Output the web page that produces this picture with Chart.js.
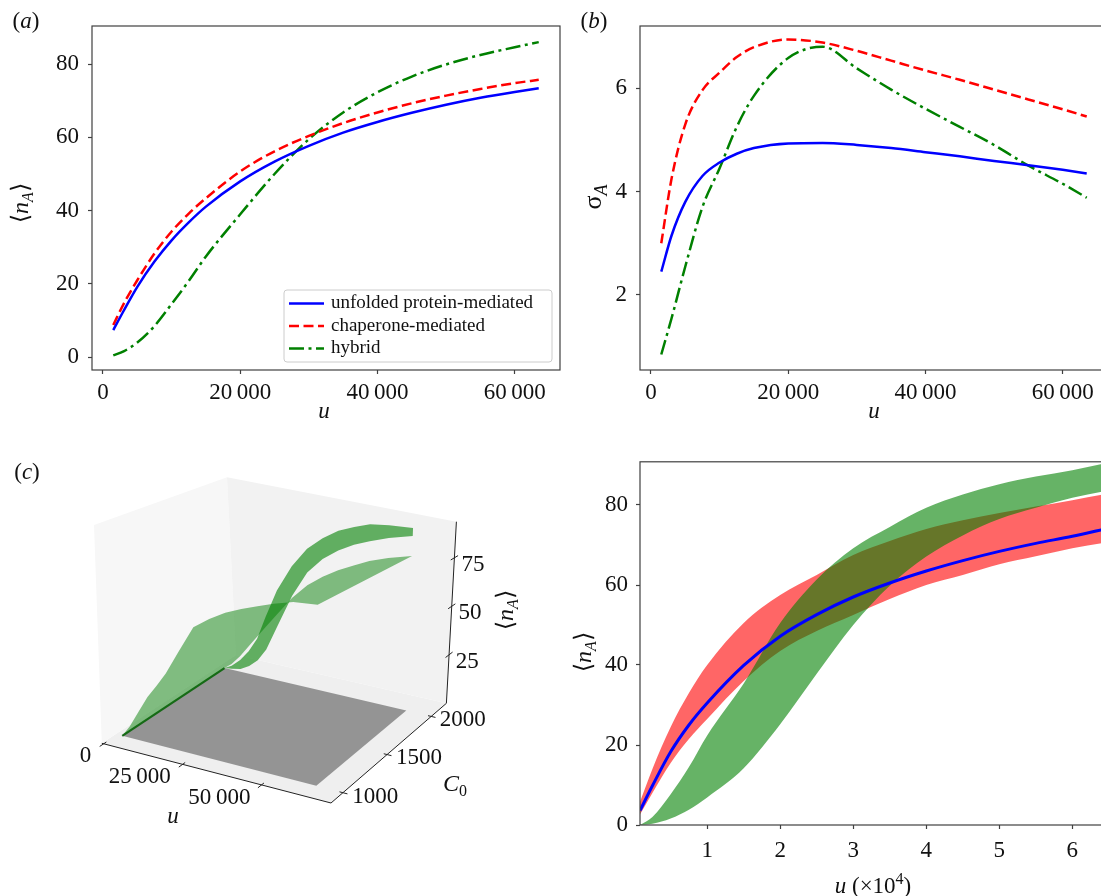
<!DOCTYPE html>
<html>
<head>
<meta charset="utf-8">
<script src="https://cdn.jsdelivr.net/npm/chart.js@4.4.1/dist/chart.umd.min.js"></script>
<style>
  html, body { margin: 0; padding: 0; background: #fff; overflow: hidden; }
  body { width: 1101px; height: 896px; position: relative; }
  canvas { position: absolute; }
  #chartA { left: 0; top: 0; }
  #chartB { left: 560px; top: 0; }
  #chartC { left: 0; top: 440px; }
  #chartD { left: 560px; top: 440px; }
</style>
</head>
<body>
<canvas id="chartC" width="560" height="456"></canvas>
<canvas id="chartD" width="560" height="456"></canvas>
<canvas id="chartA" width="562" height="440"></canvas>
<canvas id="chartB" width="560" height="440"></canvas>
<script>
// ---- data ----
// (a) and (b): sampled u values
const uA = [1500, 3000, 5000, 7500, 10000, 12500, 15000, 20000, 25000, 30000, 35000, 40000, 45000, 50000, 55000, 60000, 63500];
const meanUnfolded = [7.4, 12.6, 19.2, 26.1, 31.9, 36.8, 41.1, 48.0, 53.4, 57.7, 61.3, 64.2, 66.7, 68.9, 70.8, 72.4, 73.4];
const meanChaperone = [8.8, 14.5, 21.0, 28.3, 34.3, 39.2, 43.4, 50.7, 56.2, 60.4, 63.9, 66.8, 69.3, 71.4, 73.2, 74.8, 75.7];
const meanHybrid = [0.5, 1.6, 4.0, 8.5, 14.5, 20.8, 27.5, 39.0, 50.0, 59.5, 66.8, 72.3, 76.6, 79.9, 82.5, 84.6, 86.0];

const sdUnfolded = [2.45, 3.15, 3.8, 4.3, 4.56, 4.73, 4.84, 4.93, 4.94, 4.90, 4.84, 4.76, 4.68, 4.59, 4.51, 4.42, 4.35];
const sdChaperone = [3.0, 4.25, 5.3, 5.96, 6.3, 6.6, 6.79, 6.94, 6.88, 6.72, 6.53, 6.34, 6.16, 5.97, 5.78, 5.59, 5.45];
const sdHybrid = [0.85, 1.55, 2.55, 3.7, 4.45, 5.25, 5.85, 6.58, 6.8, 6.38, 5.97, 5.6, 5.25, 4.9, 4.5, 4.15, 3.88];

// (d): u in units of 1e4
const uD = [0.08, 0.25, 0.5, 0.75, 1, 1.5, 2, 2.5, 3, 3.5, 4, 4.5, 5, 5.5, 6, 6.42];
const bandMean = [3.6, 9.8, 18.3, 25.0, 30.5, 39.9, 47.2, 52.6, 57.0, 60.5, 63.5, 66.1, 68.4, 70.4, 72.2, 73.9];
const chapUpper = [5.8, 14.0, 24.5, 33.0, 40.0, 50.5, 57.5, 62.5, 67.5, 71.0, 74.0, 76.2, 78.0, 79.6, 81.2, 82.6];
const chapLower = [2.6, 8.0, 15.5, 21.5, 26.5, 36.0, 43.5, 48.5, 52.5, 56.5, 60.0, 62.5, 65.2, 67.2, 69.2, 70.5];
const hybUpper = [0, 2.0, 7.7, 14.5, 22.4, 35.4, 50.5, 61.4, 69.2, 74.5, 79.3, 82.6, 85.2, 87.1, 88.7, 90.3];
const hybLower = [0, 0.3, 1.6, 3.8, 6.9, 14.2, 25.2, 37.8, 50.0, 59.8, 67.1, 72.4, 76.5, 79.3, 81.8, 83.4];

// (c): surfaces over (u, C0)
const uSurf = [1500, 4000, 7000, 10000, 13000, 16000, 20000, 25000, 30000, 35000, 40000, 45000, 50000, 56000, 63500];
const sheetLowC0 = [0, 5, 12.5, 20, 26, 32.5, 43, 56, 61.5, 66, 69.5, 72.5, 75.5, 78.5, 80];
const sheetHighC0 = [0, 3, 8, 14, 20, 26, 34, 44, 52, 58, 63, 67, 71, 74.5, 78];
const ribbonUpper = [0, 2, 6, 11.5, 19, 31, 46, 60, 70.5, 77.5, 83, 86.5, 89.5, 91, 92];
const ribbonLower = [0, 0.5, 1.5, 4, 8, 14.5, 28, 45, 58.5, 67, 73, 77.5, 81, 84.5, 88];
const planeU = [1500, 63500];
const planeC0 = [1000, 2000];
const ribbonC0 = 2000;

// tick values
const uTicksAB = [0, 20000, 40000, 60000];
const nTicksA = [0, 20, 40, 60, 80];
const sdTicks = [2, 4, 6];
const uTicksD = [1, 2, 3, 4, 5, 6];
const nTicksD = [0, 20, 40, 60, 80];
const uTicks3d = [0, 25000, 50000];
const cTicks3d = [1000, 1500, 2000];
const nTicks3d = [25, 50, 75];

// ---- styling ----
const SERIF = '"Liberation Serif", "Times New Roman", "DejaVu Serif", serif';
const AXIS_GREY = '#404040';
Chart.defaults.font.family = SERIF;
Chart.defaults.color = '#111';
Chart.defaults.animation = false;
Chart.defaults.plugins.tooltip.enabled = false;
Chart.defaults.plugins.legend.display = false;

const thousands = v => v === 0 ? '0' : String(v).replace(/\B(?=(\d{3})+(?!\d))/g, '\u2009');

function drawRich(ctx, parts, x, y, size, rot, align) {
  const fontFor = p => (p.it ? 'italic ' : '') + ((p.sub || p.sup) ? Math.round(size * 0.68) : size) + 'px ' + SERIF;
  let w = 0;
  const widths = parts.map(p => { ctx.font = fontFor(p); const m = ctx.measureText(p.t).width; w += m; return m; });
  ctx.save();
  ctx.translate(x, y);
  ctx.rotate(rot || 0);
  ctx.fillStyle = '#111';
  ctx.textBaseline = 'middle';
  ctx.textAlign = 'left';
  let cx = align === 'right' ? -w : align === 'left' ? 0 : -w / 2;
  parts.forEach((p, i) => {
    ctx.font = fontFor(p);
    const dy = p.sub ? size * 0.3 : p.sup ? -size * 0.32 : 0;
    ctx.fillText(p.t, cx, dy);
    cx += widths[i];
  });
  ctx.restore();
}

function textPlugin(items) {
  return {
    id: 'texts',
    afterDraw(chart) {
      items.forEach(it => drawRich(chart.ctx, it.parts, it.x, it.y, it.size || 23, it.rot, it.align));
    }
  };
}

const framePlugin = {
  id: 'frame',
  afterDatasetsDraw(chart) {
    const { ctx, chartArea: a } = chart;
    ctx.save();
    ctx.strokeStyle = AXIS_GREY;
    ctx.lineWidth = 1.2;
    ctx.strokeRect(a.left, a.top, a.right - a.left, a.bottom - a.top);
    ctx.restore();
  }
};

const legendBox = {
  id: 'legendBox',
  afterDraw(chart) {
    const ctx = chart.ctx, ca = chart.chartArea;
    const w = 268, h = 72;
    const x0 = ca.right - 8 - w, y0 = ca.bottom - 8 - h;
    ctx.save();
    ctx.beginPath();
    ctx.roundRect(x0, y0, w, h, 3);
    ctx.fillStyle = 'rgba(255,255,255,0.8)';
    ctx.fill();
    ctx.strokeStyle = '#cccccc';
    ctx.lineWidth = 1;
    ctx.stroke();
    chart.data.datasets.forEach((ds, i) => {
      const y = y0 + 13.5 + i * 22.5;
      ctx.strokeStyle = ds.borderColor;
      ctx.lineWidth = ds.borderWidth;
      ctx.setLineDash(ds.borderDash || []);
      ctx.beginPath();
      ctx.moveTo(x0 + 5, y);
      ctx.lineTo(x0 + 40, y);
      ctx.stroke();
      ctx.setLineDash([]);
      ctx.fillStyle = '#111';
      ctx.font = '19px ' + SERIF;
      ctx.textBaseline = 'middle';
      ctx.textAlign = 'left';
      ctx.fillText(ds.label, x0 + 47, y);
    });
    ctx.restore();
  }
};

function axis(min, max, ticks, fmt, fit, horizontal, pad) {
  return {
    type: 'linear', min, max,
    afterBuildTicks: s => { s.ticks = ticks.map(v => ({ value: v })); },
    afterFit: s => { if (horizontal) s.height = fit; else s.width = fit; },
    grid: { display: true, drawOnChartArea: false, drawTicks: true, tickLength: 4, tickWidth: 1.2, tickColor: AXIS_GREY },
    border: { display: false },
    ticks: { font: { size: 23 }, color: '#111', padding: pad, maxRotation: 0, autoSkip: false, callback: fmt }
  };
}

function curve(label, xs, ys, color, dash, width) {
  return {
    label, data: xs.map((x, i) => ({ x, y: ys[i] })),
    borderColor: color, backgroundColor: color, borderWidth: width || 2.5, borderDash: dash,
    pointRadius: 0, fill: false, cubicInterpolationMode: 'monotone'
  };
}

const NA = [{ t: '\u27E8' }, { t: 'n', it: true }, { t: 'A', it: true, sub: true }, { t: '\u27E9' }];

// ---- (a) ----
new Chart(document.getElementById('chartA'), {
  type: 'line',
  data: { datasets: [
    curve('unfolded protein-mediated', uA, meanUnfolded, '#0000ff', []),
    curve('chaperone-mediated', uA, meanChaperone, '#ff0000', [10, 4.5]),
    curve('hybrid', uA, meanHybrid, '#008000', [15, 4.5, 3, 4.5])
  ]},
  options: {
    responsive: false, devicePixelRatio: 1,
    layout: { padding: { top: 26, right: 2, left: 0, bottom: 0 } },
    scales: {
      x: axis(-1600, 66600, uTicksAB, thousands, 70, true, 5),
      y: axis(-3.5, 90.4, nTicksA, v => String(v), 92, false, 9)
    }
  },
  plugins: [framePlugin, legendBox, textPlugin([
    { parts: [{ t: '(' }, { t: 'a', it: true }, { t: ')' }], x: 26, y: 22 },
    { parts: NA, x: 22, y: 203, rot: -Math.PI / 2, size: 24 },
    { parts: [{ t: 'u', it: true }], x: 324, y: 412 }
  ])]
});

// ---- (b) ----
new Chart(document.getElementById('chartB'), {
  type: 'line',
  data: { datasets: [
    curve('unfolded protein-mediated', uA, sdUnfolded, '#0000ff', []),
    curve('chaperone-mediated', uA, sdChaperone, '#ff0000', [10, 4.5]),
    curve('hybrid', uA, sdHybrid, '#008000', [15, 4.5, 3, 4.5])
  ]},
  options: {
    responsive: false, devicePixelRatio: 1,
    layout: { padding: { top: 26, right: 12, left: 0, bottom: 0 } },
    scales: {
      x: axis(-1600, 66600, uTicksAB, thousands, 70, true, 5),
      y: axis(0.55, 7.2, sdTicks, v => String(v), 80, false, 9)
    }
  },
  plugins: [framePlugin, textPlugin([
    { parts: [{ t: '(' }, { t: 'b', it: true }, { t: ')' }], x: 34, y: 22 },
    { parts: [{ t: '\u03C3' }, { t: 'A', it: true, sub: true }], x: 34, y: 197, rot: -Math.PI / 2, size: 26 },
    { parts: [{ t: 'u', it: true }], x: 314, y: 412 }
  ])]
});

// ---- (d) ----
function band(xs, ys, color, fill) {
  return {
    data: xs.map((x, i) => ({ x, y: ys[i] })), borderWidth: 0, borderColor: 'rgba(0,0,0,0)',
    backgroundColor: color, pointRadius: 0, fill, cubicInterpolationMode: 'monotone'
  };
}
const bandSets = [
  curve('mean', uD, bandMean, '#0000ff', [], 3),
  band(uD, hybUpper, 'rgba(0,128,0,0.6)', '+1'),
  band(uD, hybLower, 'rgba(0,128,0,0.6)', false),
  band(uD, chapUpper, 'rgba(255,0,0,0.6)', '+1'),
  band(uD, chapLower, 'rgba(255,0,0,0.6)', false)
];
[0, 1, 1, 2, 2].forEach((o, i) => { bandSets[i].order = o; });
new Chart(document.getElementById('chartD'), {
  type: 'line',
  data: { datasets: bandSets },
  options: {
    responsive: false, devicePixelRatio: 1,
    layout: { padding: { top: 13, right: 17, left: 0, bottom: 0 } },
    scales: {
      x: axis(0.08, 6.42, uTicksD, v => String(v), 71, true, 8),
      y: axis(0, 90.8, nTicksD, v => String(v), 80, false, 8)
    }
  },
  plugins: [framePlugin, textPlugin([
    { parts: NA, x: 25, y: 212, rot: -Math.PI / 2, size: 24 },
    { parts: [{ t: 'u', it: true }, { t: ' (\u00D710' }, { t: '4', sup: true }, { t: ')' }], x: 313, y: 447 }
  ])]
});

// ---- (c) 3D view ----
const U_BOX = [-600, 72000], C_BOX = [865, 2172], N_BOX = [0, 93.6];
const FLOOR = { c00: [101.8, 743.3], c10: [331, 803], c01: [236, 655], c11: [446.4, 703.3] };
const ROOF = { c00: [94, 525], c10: [333, 588], c01: [227, 477.3], c11: [456.4, 521.7] };

function bilerp(q, a, b) {
  const k = i => (1 - a) * (1 - b) * q.c00[i] + a * (1 - b) * q.c10[i] + (1 - a) * b * q.c01[i] + a * b * q.c11[i];
  return [k(0), k(1)];
}
function project(u, c, n) {
  const a = (u - U_BOX[0]) / (U_BOX[1] - U_BOX[0]);
  const b = (c - C_BOX[0]) / (C_BOX[1] - C_BOX[0]);
  const h = (n - N_BOX[0]) / (N_BOX[1] - N_BOX[0]);
  const f = bilerp(FLOOR, a, b), t = bilerp(ROOF, a, b);
  return { x: f[0] + (t[0] - f[0]) * h, y: f[1] + (t[1] - f[1]) * h };
}
function poly(points, color) {
  return { data: points, fill: 'shape', backgroundColor: color, borderColor: 'rgba(0,0,0,0)', borderWidth: 0, pointRadius: 0, tension: 0 };
}
function seg(points, color, width) {
  return { data: points, fill: false, borderColor: color, borderWidth: width, pointRadius: 0, tension: 0 };
}

const [u0, u1] = U_BOX, [c0, c1] = C_BOX, [n0, n1] = N_BOX;
const cSpan = c1 - c0, uSpan = u1 - u0;
const c3 = [];
c3.push(poly([project(u0, c0, n0), project(u1, c0, n0), project(u1, c1, n0), project(u0, c1, n0)], '#efefef'));
c3.push(poly([project(u0, c0, n0), project(u0, c1, n0), project(u0, c1, n1), project(u0, c0, n1)], '#f7f7f7'));
c3.push(poly([project(u0, c1, n0), project(u1, c1, n0), project(u1, c1, n1), project(u0, c1, n1)], '#f2f2f2'));
c3.push(poly([project(planeU[0], planeC0[0], 0), project(planeU[1], planeC0[0], 0), project(planeU[1], planeC0[1], 0), project(planeU[0], planeC0[1], 0)], 'rgba(125,125,125,0.8)'));
const sheetPts = uSurf.map((u, i) => project(u, planeC0[0], sheetLowC0[i]))
  .concat(uSurf.map((u, i) => project(u, planeC0[1], sheetHighC0[i])).reverse());
c3.push(poly(sheetPts, 'rgba(10,130,10,0.5)'));
c3.push(seg([project(uSurf[0], planeC0[0], 0), project(uSurf[0], planeC0[1], 0)], 'rgba(0,95,0,0.85)', 2.2));
const ribbonPts = uSurf.map((u, i) => project(u, ribbonC0, ribbonUpper[i]))
  .concat(uSurf.map((u, i) => project(u, ribbonC0, ribbonLower[i])).reverse());
c3.push(poly(ribbonPts, 'rgba(0,128,0,0.6)'));
c3.push(seg([project(u0, c0, n0), project(u1, c0, n0)], '#222', 1));
c3.push(seg([project(u1, c0, n0), project(u1, c1, n0)], '#222', 1));
c3.push(seg([project(u1, c1, n0), project(u1, c1, n1)], '#222', 1));
uTicks3d.forEach(u => c3.push(seg([project(u, c0 + 0.02 * cSpan, 0), project(u, c0 - 0.03 * cSpan, 0)], '#222', 1)));
cTicks3d.forEach(c => c3.push(seg([project(u1 - 0.015 * uSpan, c, 0), project(u1 + 0.02 * uSpan, c, 0)], '#222', 1)));
nTicks3d.forEach(n => c3.push(seg([project(u1, c1 - 0.03 * cSpan, n), project(u1, c1 + 0.03 * cSpan, n)], '#222', 1)));
c3.forEach((d, i) => { d.order = c3.length - i; });

const labels3d = {
  id: 'labels3d',
  afterDraw(chart) {
    const sx = chart.scales.x, sy = chart.scales.y, ctx = chart.ctx;
    const at = p => [sx.getPixelForValue(p.x), sy.getPixelForValue(p.y)];
    uTicks3d.forEach(u => {
      const [x, y] = at(project(u, c0 - 0.1 * cSpan, 0));
      drawRich(ctx, [{ t: thousands(u) }], x + 1, y + 3, 23, 0, 'right');
    });
    cTicks3d.forEach(c => {
      const [x, y] = at(project(u1 + 0.05 * uSpan, c, 0));
      drawRich(ctx, [{ t: String(c) }], x - 2, y + 1, 23, 0, 'left');
    });
    nTicks3d.forEach(n => {
      const [x, y] = at(project(u1 + 0.04 * uSpan, c1, n));
      drawRich(ctx, [{ t: String(n) }], x - 2, y + 5, 23, 0, 'left');
    });
  }
};

new Chart(document.getElementById('chartC'), {
  type: 'line',
  data: { datasets: c3 },
  options: {
    responsive: false, devicePixelRatio: 1,
    layout: { padding: 0 },
    scales: {
      x: { type: 'linear', min: 0, max: 560, display: false },
      y: { type: 'linear', min: 440, max: 896, reverse: true, display: false }
    }
  },
  plugins: [labels3d, textPlugin([
    { parts: [{ t: '(' }, { t: 'c', it: true }, { t: ')' }], x: 27, y: 33 },
    { parts: [{ t: 'u', it: true }], x: 173, y: 377 },
    { parts: [{ t: 'C', it: true }, { t: '0', sub: true }], x: 455, y: 345, size: 24 },
    { parts: NA, x: 507, y: 170, rot: -Math.PI / 2, size: 24 }
  ])]
});
</script>
</body>
</html>
